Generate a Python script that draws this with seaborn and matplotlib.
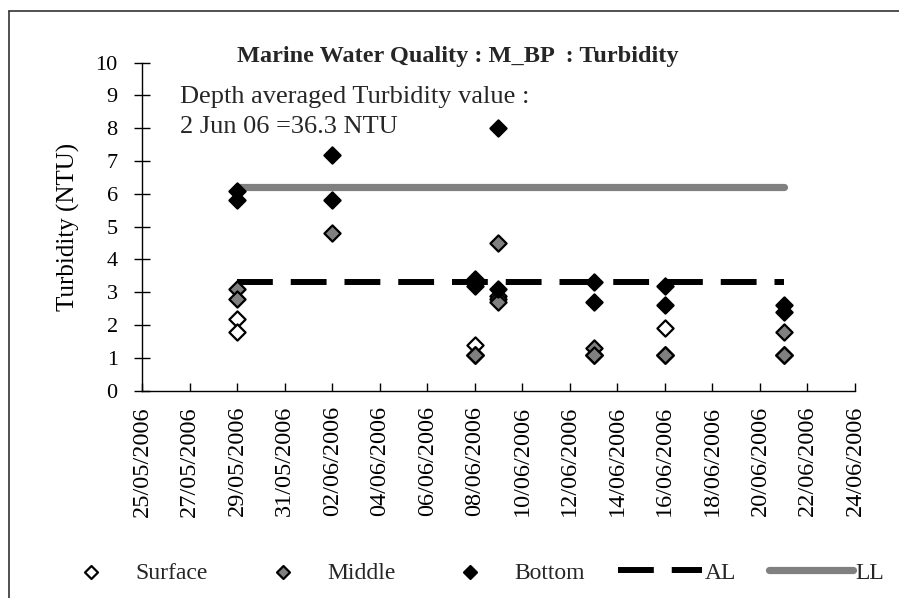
import numpy as np
import pandas as pd
import matplotlib
matplotlib.use("Agg")
import matplotlib.pyplot as plt
import matplotlib.dates as mdates
from matplotlib.lines import Line2D
import seaborn as sns

# ---- data ----
sample_dates = ["2006-05-29", "2006-06-02", "2006-06-08", "2006-06-09",
                "2006-06-13", "2006-06-16", "2006-06-21"]
surface_a = [2.2, np.nan, 1.4, 2.9, 1.1, 1.9, 1.1]
surface_b = [1.8, np.nan, 1.1, 2.8, 1.1, 1.1, 1.1]
middle_a = [3.1, 4.8, 1.1, 4.5, 1.3, 1.1, 1.8]
middle_b = [2.8, np.nan, 1.1, 2.7, 1.1, 1.1, 1.1]
bottom_a = [6.1, 7.2, 3.4, 8.0, 3.3, 3.2, 2.6]
bottom_b = [5.8, 5.8, 3.2, 3.1, 2.7, 2.6, 2.4]
limit_dates = ["2006-05-29", "2006-06-21"]
al_values = [3.3, 3.3]
ll_values = [6.2, 6.2]
x_start, x_end = "2006-05-25", "2006-06-24"
y_ticks = list(range(0, 11))

title = "Marine Water Quality : M_BP  : Turbidity"
note1 = "Depth averaged Turbidity value :"
note2 = "2 Jun 06 =36.3 NTU"

sns.set_style("white")
plt.rcParams["font.family"] = ["Liberation Serif", "DejaVu Serif"]

fig = plt.figure(figsize=(8.99, 5.98), dpi=100)
ax = fig.add_axes([0.158, 0.3467, 0.793, 0.5485])

def frame(a, b):
    d = pd.to_datetime(sample_dates * 2)
    return pd.DataFrame({"date": d, "value": list(a) + list(b)}).dropna()

df_s = frame(surface_a, surface_b)
df_m = frame(middle_a, middle_b)
df_b = frame(bottom_a, bottom_b)
df_lim = pd.DataFrame({"date": pd.to_datetime(limit_dates), "AL": al_values, "LL": ll_values})

ms = 68
sns.lineplot(data=df_lim, x="date", y="LL", color="#808080", linewidth=5.2,
             ax=ax, label="LL", zorder=2)
sns.lineplot(data=df_lim, x="date", y="AL", color="black", linewidth=4.3,
             ax=ax, label="AL", zorder=2)
ax.lines[-1].set_dashes((6, 3))
sns.scatterplot(data=df_s, x="date", y="value", marker="D", s=ms, color="white",
                edgecolor="black", linewidth=1.6, ax=ax, label="Surface", zorder=3)
sns.scatterplot(data=df_m, x="date", y="value", marker="D", s=ms, color="#808080",
                edgecolor="black", linewidth=1.6, ax=ax, label="Middle", zorder=4)
sns.scatterplot(data=df_b, x="date", y="value", marker="D", s=ms, color="black",
                edgecolor="black", linewidth=1.6, ax=ax, label="Bottom", zorder=5)

ax.set_xlim(pd.Timestamp(x_start), pd.Timestamp(x_end))
ax.set_ylim(0, 10)
ax.set_yticks(y_ticks)
ax.set_xticks(pd.date_range(x_start, x_end, freq="2D"))
ax.xaxis.set_major_formatter(mdates.DateFormatter("%d/%m/%Y"))
for lab in ax.get_xticklabels():
    lab.set_rotation(90)

for s in ["top", "right"]:
    ax.spines[s].set_visible(False)
for s in ["left", "bottom"]:
    ax.spines[s].set_color("black")
    ax.spines[s].set_linewidth(1.0)

ax.tick_params(axis="y", direction="inout", length=11, width=1, pad=12,
               labelsize=16, colors="black", left=True)
ax.tick_params(axis="x", direction="in", length=6, width=1, pad=11,
               labelsize=17.5, colors="black", bottom=True)
ax.set_xlabel("")
ax.set_ylabel("Turbidity (NTU)", fontsize=18, color="black")
ax.yaxis.set_label_coords(-0.087, 0.5)

ax.text(0.0533, 0.877, note1, transform=ax.transAxes, fontsize=19, va="baseline", ha="left")
ax.text(0.0533, 0.786, note2, transform=ax.transAxes, fontsize=19, va="baseline", ha="left")
fig.text(0.2636, 0.897, title, fontsize=17.5, fontweight="bold", ha="left", va="baseline")

handles, labels = ax.get_legend_handles_labels()
if ax.get_legend():
    ax.get_legend().remove()
order = ["Surface", "Middle", "Bottom", "AL", "LL"]
hmap = dict(zip(labels, handles))
fig.legend([hmap[k] for k in order], order, loc="center", bbox_to_anchor=(0.519, 0.042),
           ncol=5, frameon=False, fontsize=17, handlelength=3.55, handletextpad=0.1,
           columnspacing=1.4, scatterpoints=1, markerscale=0.8)

# figure border (left and top edges visible)
fig.add_artist(Line2D([9/899, 9/899], [0, 1 - 11/598], transform=fig.transFigure,
                      color="#333333", linewidth=1.2))
fig.add_artist(Line2D([9/899, 1], [1 - 11/598, 1 - 11/598], transform=fig.transFigure,
                      color="#333333", linewidth=1.2))

fig.savefig("out.png", dpi=100)
